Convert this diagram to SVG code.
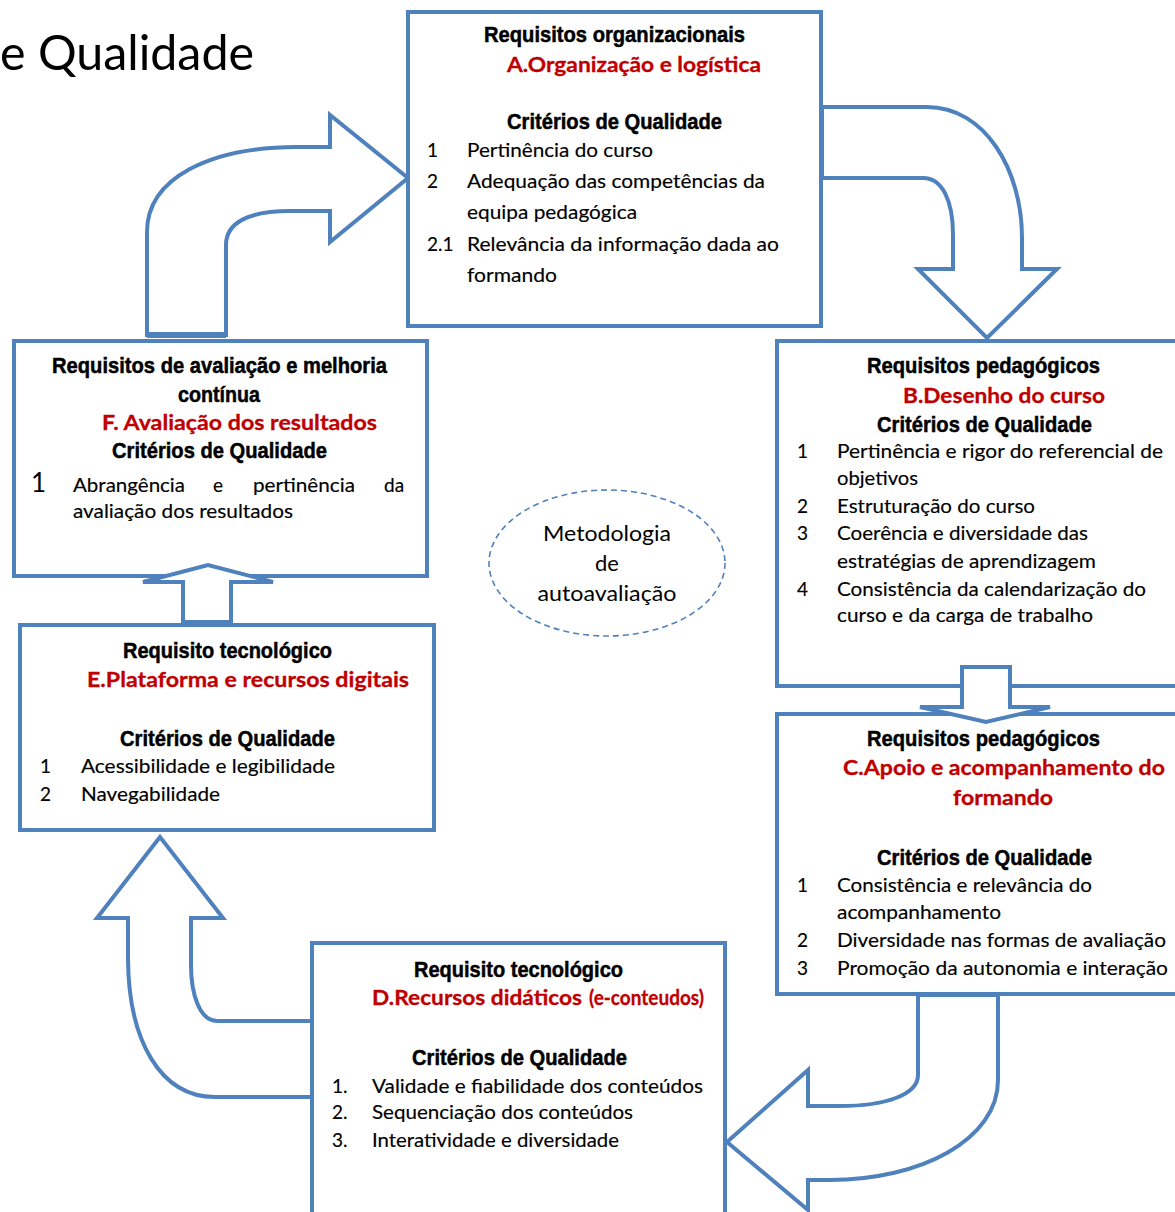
<svg xmlns="http://www.w3.org/2000/svg" width="1175" height="1212" viewBox="0 0 1175 1212">
<style>
.box{fill:#fff;stroke:#4F81BD;stroke-width:4}
.arr{fill:#fff;stroke:#4F81BD;stroke-width:4;stroke-linejoin:miter}
.h{font-family:"Liberation Sans Narrow","Liberation Sans",Arial,sans-serif;font-weight:bold;font-size:22px;fill:#000;stroke:#000;stroke-width:0.5}
.r{font-family:Lato,"Open Sans",sans-serif;font-weight:bold;font-size:21px;fill:#C00000;stroke:#C00000;stroke-width:0.3}
.b{font-family:Lato,"Open Sans",sans-serif;font-size:19px;fill:#000;stroke:#000;stroke-width:0.15}
.m{font-family:Lato,"Open Sans",sans-serif;font-size:22px;fill:#000;text-anchor:middle}
</style>
<rect width="1175" height="1212" fill="#fff"/>
<text x="0" y="70" font-family="Lato,'Open Sans',sans-serif" font-size="48" textLength="254" lengthAdjust="spacingAndGlyphs">e Qualidade</text>

<g id="connectors">
<path class="arr" d="M147,335 L147,232 C147,178 210,147 297,147 L330,147 L330,115 L408,178 L330,242 L330,211 L290,211 C250,211 226,222 226,245 L226,335 Z"/>
<path class="arr" d="M822,107 L927,107 C985,107 1022,170 1022,238 L1022,269 L1057,269 L987,338 L918,269 L953,269 L953,235 C953,200 942,178 923,178 L822,178 Z"/>
<path class="arr" d="M918,995 L918,1075 C918,1095 885,1106 840,1106 L808,1106 L808,1070 L727,1142 L808,1210 L808,1180 L830,1180 C920,1180 998,1140 998,1080 L998,995 Z"/>
<path class="arr" d="M312,1021 L217,1021 C200,1021 191,995 191,965 L191,918 L223,918 L160,837 L97,918 L128,918 L128,957 C128,1040 160,1097 215,1097 L312,1097 Z"/>
<rect x="147" y="332" width="79" height="6" fill="#4F81BD"/>
</g>

<g id="nodeA">
<rect class="box" x="408" y="12" width="413" height="314"/>
<text class="h" x="484" y="42" textLength="261" lengthAdjust="spacingAndGlyphs">Requisitos organizacionais</text>
<text class="r" x="507" y="72" textLength="254" lengthAdjust="spacingAndGlyphs">A.Organização e logística</text>
<text class="h" x="507" y="129" textLength="215" lengthAdjust="spacingAndGlyphs">Critérios de Qualidade</text>
<text class="b" x="427" y="157">1</text>
<text class="b" x="467" y="157" textLength="186" lengthAdjust="spacingAndGlyphs">Pertinência do curso</text>
<text class="b" x="427" y="188">2</text>
<text class="b" x="467" y="188" textLength="298" lengthAdjust="spacingAndGlyphs">Adequação das competências da</text>
<text class="b" x="467" y="219" textLength="170" lengthAdjust="spacingAndGlyphs">equipa pedagógica</text>
<text class="b" x="427" y="251">2.1</text>
<text class="b" x="467" y="251" textLength="312" lengthAdjust="spacingAndGlyphs">Relevância da informação dada ao</text>
<text class="b" x="467" y="282" textLength="90" lengthAdjust="spacingAndGlyphs">formando</text>
</g>

<g id="nodeB">
<rect class="box" x="777" y="341" width="420" height="345"/>
<text class="h" x="867" y="373" textLength="233" lengthAdjust="spacingAndGlyphs">Requisitos pedagógicos</text>
<text class="r" x="903" y="403" textLength="202" lengthAdjust="spacingAndGlyphs">B.Desenho do curso</text>
<text class="h" x="877" y="432" textLength="215" lengthAdjust="spacingAndGlyphs">Critérios de Qualidade</text>
<text class="b" x="797" y="458">1</text>
<text class="b" x="837" y="458" textLength="326" lengthAdjust="spacingAndGlyphs">Pertinência e rigor do referencial de</text>
<text class="b" x="837" y="485" textLength="81" lengthAdjust="spacingAndGlyphs">objetivos</text>
<text class="b" x="797" y="513">2</text>
<text class="b" x="837" y="513" textLength="198" lengthAdjust="spacingAndGlyphs">Estruturação do curso</text>
<text class="b" x="797" y="540">3</text>
<text class="b" x="837" y="540" textLength="251" lengthAdjust="spacingAndGlyphs">Coerência e diversidade das</text>
<text class="b" x="837" y="568" textLength="259" lengthAdjust="spacingAndGlyphs">estratégias de aprendizagem</text>
<text class="b" x="797" y="596">4</text>
<text class="b" x="837" y="596" textLength="309" lengthAdjust="spacingAndGlyphs">Consistência da calendarização do</text>
<text class="b" x="837" y="622" textLength="256" lengthAdjust="spacingAndGlyphs">curso e da carga de trabalho</text>
</g>

<g id="nodeC">
<rect class="box" x="777" y="714" width="420" height="280"/>
<text class="h" x="867" y="746" textLength="233" lengthAdjust="spacingAndGlyphs">Requisitos pedagógicos</text>
<text class="r" x="843" y="775" textLength="322" lengthAdjust="spacingAndGlyphs">C.Apoio e acompanhamento do</text>
<text class="r" x="953" y="805" textLength="100" lengthAdjust="spacingAndGlyphs">formando</text>
<text class="h" x="877" y="865" textLength="215" lengthAdjust="spacingAndGlyphs">Critérios de Qualidade</text>
<text class="b" x="797" y="892">1</text>
<text class="b" x="837" y="892" textLength="255" lengthAdjust="spacingAndGlyphs">Consistência e relevância do</text>
<text class="b" x="837" y="919" textLength="164" lengthAdjust="spacingAndGlyphs">acompanhamento</text>
<text class="b" x="797" y="947">2</text>
<text class="b" x="837" y="947" textLength="329" lengthAdjust="spacingAndGlyphs">Diversidade nas formas de avaliação</text>
<text class="b" x="797" y="975">3</text>
<text class="b" x="837" y="975" textLength="331" lengthAdjust="spacingAndGlyphs">Promoção da autonomia e interação</text>
</g>

<g id="nodeD">
<rect class="box" x="312" y="943" width="413" height="290"/>
<text class="h" x="414" y="977" textLength="209" lengthAdjust="spacingAndGlyphs">Requisito tecnológico</text>
<text class="r" x="372" y="1005" textLength="210" lengthAdjust="spacingAndGlyphs">D.Recursos didáticos</text>
<text class="r" x="589" y="1005" font-size="16" textLength="115" lengthAdjust="spacingAndGlyphs">(e-conteudos)</text>
<text class="h" x="412" y="1065" textLength="215" lengthAdjust="spacingAndGlyphs">Critérios de Qualidade</text>
<text class="b" x="332" y="1093">1.</text>
<text class="b" x="372" y="1093" textLength="331" lengthAdjust="spacingAndGlyphs">Validade e fiabilidade dos conteúdos</text>
<text class="b" x="332" y="1119">2.</text>
<text class="b" x="372" y="1119" textLength="261" lengthAdjust="spacingAndGlyphs">Sequenciação dos conteúdos</text>
<text class="b" x="332" y="1147">3.</text>
<text class="b" x="372" y="1147" textLength="247" lengthAdjust="spacingAndGlyphs">Interatividade e diversidade</text>
</g>

<g id="nodeE">
<rect class="box" x="20" y="625" width="414" height="205"/>
<text class="h" x="123" y="658" textLength="209" lengthAdjust="spacingAndGlyphs">Requisito tecnológico</text>
<text class="r" x="87" y="687" textLength="322" lengthAdjust="spacingAndGlyphs">E.Plataforma e recursos digitais</text>
<text class="h" x="120" y="746" textLength="215" lengthAdjust="spacingAndGlyphs">Critérios de Qualidade</text>
<text class="b" x="40" y="773">1</text>
<text class="b" x="81" y="773" textLength="254" lengthAdjust="spacingAndGlyphs">Acessibilidade e legibilidade</text>
<text class="b" x="40" y="801">2</text>
<text class="b" x="81" y="801" textLength="139" lengthAdjust="spacingAndGlyphs">Navegabilidade</text>
</g>

<g id="nodeF">
<rect class="box" x="14" y="341" width="413" height="235"/>
<text class="h" x="52" y="373" textLength="335" lengthAdjust="spacingAndGlyphs">Requisitos de avaliação e melhoria</text>
<text class="h" x="178" y="402" textLength="82" lengthAdjust="spacingAndGlyphs">contínua</text>
<text class="r" x="102" y="430" textLength="275" lengthAdjust="spacingAndGlyphs">F. Avaliação dos resultados</text>
<text class="h" x="112" y="458" textLength="215" lengthAdjust="spacingAndGlyphs">Critérios de Qualidade</text>
<text x="31" y="492" font-family="Lato,'Open Sans',sans-serif" font-size="26">1</text>
<text class="b" x="73" y="492" textLength="112" lengthAdjust="spacingAndGlyphs">Abrangência</text>
<text class="b" x="213" y="492">e</text>
<text class="b" x="253" y="492" textLength="102" lengthAdjust="spacingAndGlyphs">pertinência</text>
<text class="b" x="384" y="492">da</text>
<text class="b" x="73" y="518" textLength="220" lengthAdjust="spacingAndGlyphs">avaliação dos resultados</text>
</g>

<g id="smallArrows">
<path class="arr" d="M183,622 L183,582 L143,582 L208,565 L273,582 L231,582 L231,622 Z"/>
<path class="arr" d="M962,667 L1010,667 L1010,707 L1050,707 L986,722 L920,707 L962,707 Z"/>
</g>

<g id="nodeMetodologia">
<ellipse cx="607" cy="563" rx="118" ry="73" fill="none" stroke="#4F81BD" stroke-width="1.6" stroke-dasharray="6,4"/>
<text class="m" x="607" y="541" textLength="128" lengthAdjust="spacingAndGlyphs">Metodologia</text>
<text class="m" x="607" y="571">de</text>
<text class="m" x="607" y="601" textLength="139" lengthAdjust="spacingAndGlyphs">autoavaliação</text>
</g>
</svg>
